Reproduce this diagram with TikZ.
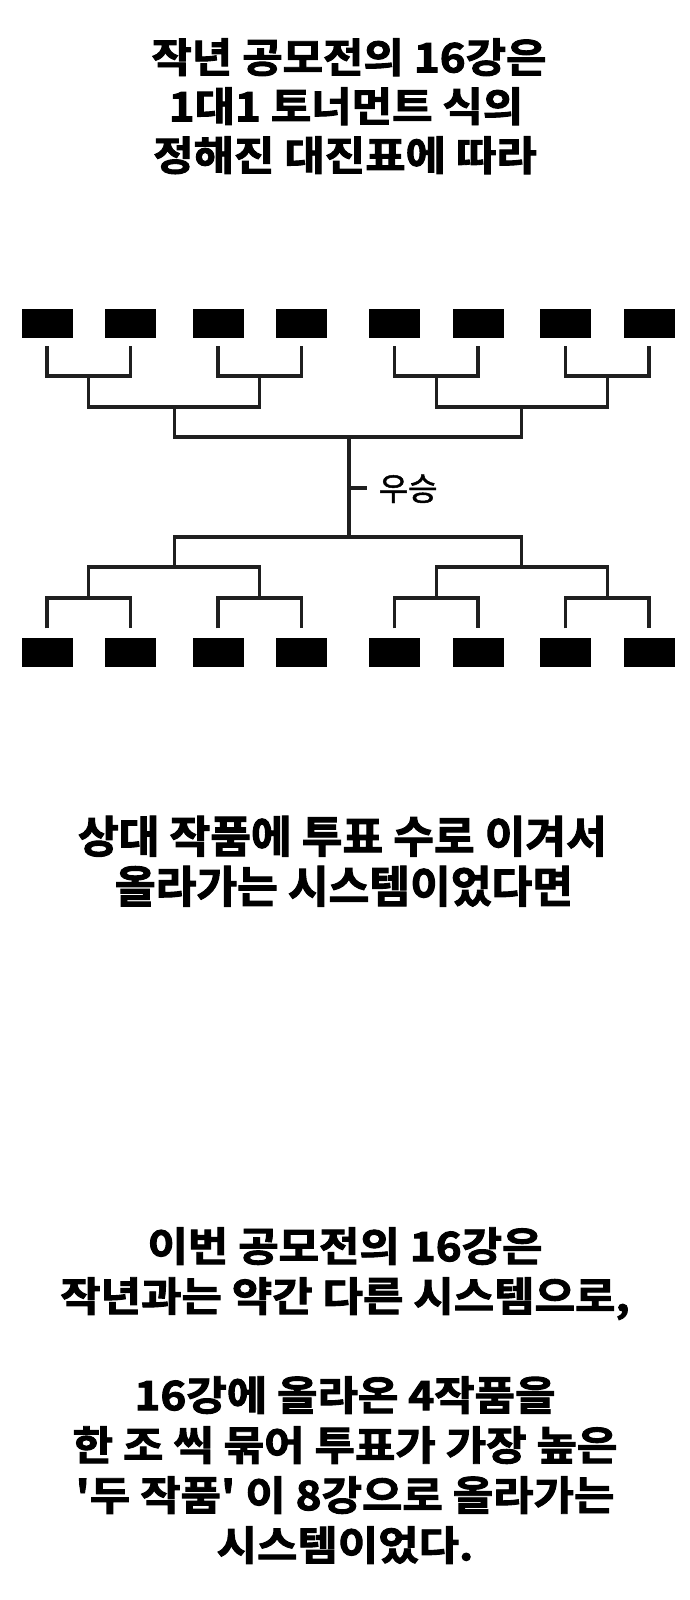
\documentclass[tikz,border=0pt]{standalone}
\usepackage{fontspec}
\usepackage{graphicx}
\newfontfamily\kr{Noto Sans CJK KR}[Ligatures=TeXOff]
\newfontfamily\krb{Noto Sans CJK KR}[Ligatures=TeXOff,UprightFont=* Bold,FakeBold=2.3]
\newfontfamily\krm{Noto Sans CJK KR}[Ligatures=TeXOff,FakeBold=1.5]
\newcommand\ttlfont{\krb\fontsize{40.5}{48}\selectfont}
\newcommand\bigfont{\krb\fontsize{44}{52}\selectfont}
\newcommand\labfont{\krm\fontsize{32}{36}\selectfont}
\newlength\natw
\begin{document}
\settowidth\natw{\ttlfont 작년 공모전의 16강은}
\pgfmathsetmacro\rA{395/\natw}
\settowidth\natw{\bigfont 상대 작품에 투표 수로 이겨서}
\pgfmathsetmacro\rB{529/\natw}
\begin{tikzpicture}[x=1pt,y=-1pt,
  box/.style={fill=black,draw=none,minimum width=51pt,minimum height=29pt,inner sep=0pt},
  br/.style={draw=black!88,line width=3.2pt},
  ttl/.style={font=\ttlfont,anchor=base,inner sep=0pt},
  bigt/.style={font=\bigfont,anchor=base,inner sep=0pt},
  lab/.style={font=\labfont,anchor=base west,inner sep=0pt}]
\useasboundingbox[fill=white] (0,0) rectangle (690,1600);

% title
\node[ttl] (h1) at (349,72.4) {\scalebox{\rA}[1]{작년 공모전의 16강은}};
\node[ttl] (h2) at (346,121.4) {\scalebox{\rA}[1]{1대1 토너먼트 식의}};
\node[ttl] (h3) at (345,170.4) {\scalebox{\rA}[1]{정해진 대진표에 따라}};

% boxes
\foreach \x [count=\i] in {47,130.5,218,301.5,394.5,478,565.5,649}{
  \node[box] (t\i) at (\x,323.5) {};
  \node[box] (b\i) at (\x,652) {};
}

% top bracket coordinates
\coordinate (ta1) at (88.75,376);
\coordinate (ta2) at (259.75,376);
\coordinate (ta3) at (436.25,376);
\coordinate (ta4) at (607.25,376);
\coordinate (tb1) at (174.25,407);
\coordinate (tb2) at (521.75,407);
\coordinate (tc) at (349,437);
% bottom bracket coordinates
\coordinate (ba1) at (88.75,598);
\coordinate (ba2) at (259.75,598);
\coordinate (ba3) at (436.25,598);
\coordinate (ba4) at (607.25,598);
\coordinate (bb1) at (174.25,567);
\coordinate (bb2) at (521.75,567);
\coordinate (bc) at (349,537);

% leaves
\foreach \a/\b/\j in {1/2/1,3/4/2,5/6/3,7/8/4}{
  \draw[br] ([yshift=-8pt]t\a.south) -- (t\a.south |- ta\j) -- (t\b.south |- ta\j) -- ([yshift=-8pt]t\b.south);
  \draw[br] ([yshift=9pt]b\a.north) -- (b\a.north |- ba\j) -- (b\b.north |- ba\j) -- ([yshift=9pt]b\b.north);
}
% level 2
\draw[br] (ta1) -- (ta1 |- tb1) -- (ta2 |- tb1) -- (ta2);
\draw[br] (ta3) -- (ta3 |- tb2) -- (ta4 |- tb2) -- (ta4);
\draw[br] (ba1) -- (ba1 |- bb1) -- (ba2 |- bb1) -- (ba2);
\draw[br] (ba3) -- (ba3 |- bb2) -- (ba4 |- bb2) -- (ba4);
% level 3
\draw[br] (tb1) -- (tb1 |- tc) -- (tb2 |- tc) -- (tb2);
\draw[br] (bb1) -- (bb1 |- bc) -- (bb2 |- bc) -- (bb2);
% final
\draw[br] (tc) -- (bc);
\coordinate (tk1) at (349,488);
\coordinate (tk2) at (367,488);
\draw[br] (tk1) -- (tk2);
\node[lab] (win) at (378.5,500.5) {우승};

% middle text
\node[bigt] (m1) at (342.5,852.7) {\scalebox{\rB}[1]{상대 작품에 투표 수로 이겨서}};
\node[bigt] (m2) at (344,902.7) {\scalebox{\rB}[1]{올라가는 시스템이었다면}};

% lower text
\node[ttl] (l1) at (345,1261.2) {\scalebox{\rA}[1]{이번 공모전의 16강은}};
\node[ttl] (l2) at (345,1311.2) {\scalebox{\rA}[1]{작년과는 약간 다른 시스템으로,}};
\node[ttl] (l3) at (345,1410.2) {\scalebox{\rA}[1]{16강에 올라온 4작품을}};
\node[ttl] (l4) at (345,1460.2) {\scalebox{\rA}[1]{한 조 씩 묶어 투표가 가장 높은}};
\node[ttl] (l5) at (345,1510.2) {\scalebox{\rA}[1]{'두 작품' 이 8강으로 올라가는}};
\node[ttl] (l6) at (345,1560.2) {\scalebox{\rA}[1]{시스템이었다.}};
\end{tikzpicture}
\end{document}
